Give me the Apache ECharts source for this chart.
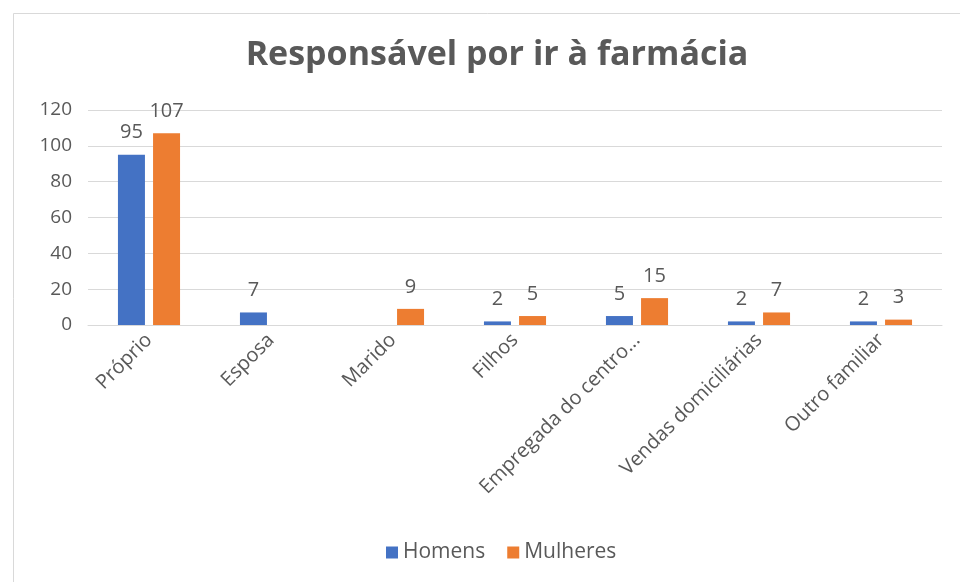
<!DOCTYPE html>
<html>
<head>
<meta charset="utf-8">
<script src="https://cdn.jsdelivr.net/npm/echarts@6/dist/echarts.min.js"></script>
<style>
html,body{margin:0;padding:0;background:#fff;}
#chart{width:960px;height:582px;}
</style>
</head>
<body>
<div id="chart"></div>
<script>
// categorias e valores
var categorias = ['Próprio', 'Esposa', 'Marido', 'Filhos', 'Empregada do centro...', 'Vendas domiciliárias', 'Outro familiar'];
var homens = [95, 7, null, 2, 5, 2, 2];
var mulheres = [107, null, 9, 5, 15, 7, 3];
var yTicks = [0, 20, 40, 60, 80, 100, 120];

var chart = echarts.init(document.getElementById('chart'));
var fonte = '"Open Sans", sans-serif';

var rotulo = {
  show: true,
  position: 'top',
  distance: 12,
  color: '#595959',
  fontSize: 20,
  fontFamily: fonte
};

chart.setOption({
  backgroundColor: '#fff',
  animation: false,
  graphic: [{
    type: 'rect',
    shape: { x: 13.5, y: 13.5, width: 980, height: 600 },
    style: { fill: 'none', stroke: '#d9d9d9', lineWidth: 1 },
    silent: true
  }],
  title: {
    text: 'Responsável por ir à farmácia',
    left: 492,
    textAlign: 'center',
    top: 33,
    textStyle: { color: '#595959', fontSize: 34, fontWeight: 'bold', fontFamily: fonte }
  },
  legend: {
    data: ['Homens', 'Mulheres'],
    left: 381,
    top: 537,
    icon: 'rect',
    itemWidth: 12,
    itemHeight: 12,
    itemGap: 22,
    itemStyle: { borderWidth: 0 },
    textStyle: { color: '#595959', fontSize: 21, fontFamily: fonte }
  },
  grid: { left: 88, right: 18, top: 110, bottom: 257 },
  xAxis: {
    type: 'category',
    data: categorias,
    axisLine: { lineStyle: { color: '#d9d9d9', width: 1 } },
    axisTick: { show: false },
    axisLabel: {
      rotate: 45,
      interval: 0,
      margin: 12,
      color: '#595959',
      fontSize: 20,
      fontFamily: fonte
    }
  },
  yAxis: {
    type: 'value',
    min: yTicks[0],
    max: yTicks[yTicks.length - 1],
    interval: yTicks[1] - yTicks[0],
    axisLine: { show: false },
    axisTick: { show: false },
    splitLine: { lineStyle: { color: '#d9d9d9', width: 1 } },
    axisLabel: { margin: 16, color: '#595959', fontSize: 19, fontFamily: fonte }
  },
  series: [
    {
      name: 'Homens',
      type: 'bar',
      data: homens,
      barWidth: 27,
      barGap: '30%',
      itemStyle: { color: '#4472C4' },
      label: rotulo
    },
    {
      name: 'Mulheres',
      type: 'bar',
      data: mulheres,
      barWidth: 27,
      itemStyle: { color: '#ED7D31' },
      label: rotulo
    }
  ]
});
</script>
</body>
</html>
